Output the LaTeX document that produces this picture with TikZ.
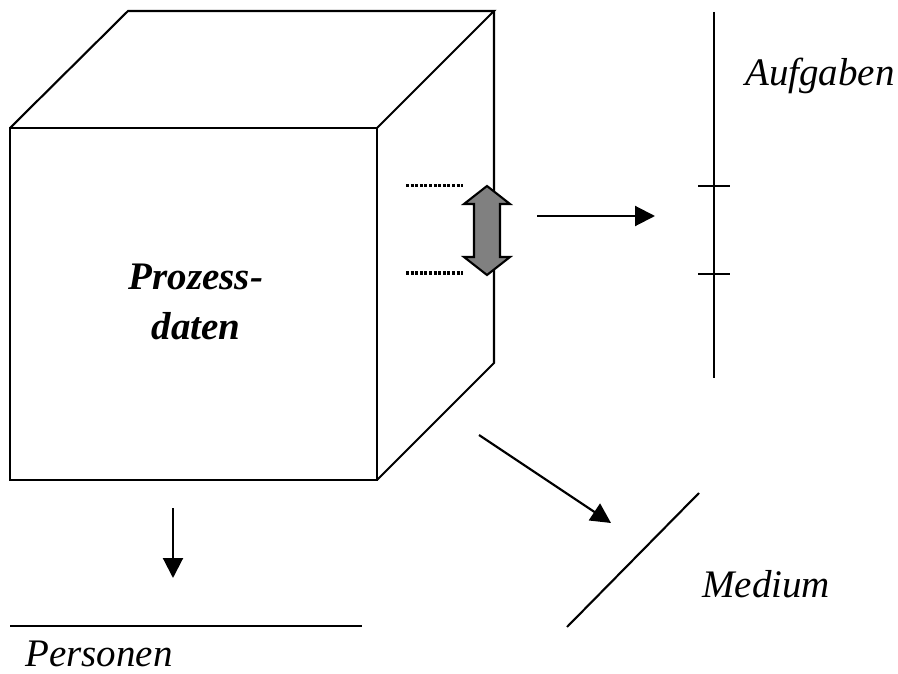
\documentclass[tikz,border=0pt]{standalone}
\usepackage{fontspec}
\setmainfont{Liberation Serif}
\usetikzlibrary{arrows.meta}
\tikzset{
    kante/.style={line width=2.1pt, black},
    pfeil/.style={kante, -{Triangle[length=20pt,width=20pt]}},
    punkte/.style={line width=3pt, dash pattern=on 3pt off 1.6pt},
    achsentext/.style={font=\fontsize{39}{50}\selectfont\itshape, inner sep=0pt},
}

\begin{document}
\begin{tikzpicture}[x=1pt,y=-1pt]
    \useasboundingbox (0,0) rectangle (898,674);
    % Wuerfel
    \coordinate (f1) at (10,128);
    \coordinate (f2) at (377,128);
    \coordinate (f3) at (377,480);
    \coordinate (f4) at (10,480);
    \coordinate (b1) at (128,11);
    \coordinate (b2) at (494,11);
    \coordinate (b3) at (494,363);
    \draw[kante] (f1) -- (f2) -- (f3) -- (f4) -- cycle;
    \draw[kante] (f1) -- (b1) -- (b2) -- (f2);
    \draw[kante] (b2) -- (b3) -- (f3);
    \node[achsentext, font=\fontsize{39}{50}\selectfont\bfseries\itshape, align=center] (pd) at (196,302) {Prozess-\\daten};
    % Doppelpfeil
    \draw[punkte] (406,186) -- (463,186);
    \draw[punkte] (406,273) -- (463,273);
    \draw[kante, fill=gray, line join=miter] (487,186) -- (510,204) -- (500,204) -- (500,257) -- (510,257)
        -- (487,275) -- (464,257) -- (474,257) -- (474,204) -- (464,204) -- cycle;
    % Achse Aufgaben
    \coordinate (a1) at (714,12);
    \coordinate (a2) at (714,378);
    \draw[kante] (a1) -- (a2);
    \foreach \y in {186,274}
        \draw[kante] (698,\y) -- (730,\y);
    \node[achsentext, anchor=base west] (auf) at (745,86) {Aufgaben};
    \coordinate (r1) at (537,216);
    \coordinate (r2) at (655,216);
    \draw[pfeil] (r1) -- (r2);
    % Achse Medium
    \coordinate (m1) at (567,627);
    \coordinate (m2) at (699,493);
    \draw[kante] (m1) -- (m2);
    \node[achsentext, anchor=base west] (med) at (702,597) {Medium};
    \coordinate (d1) at (479,435);
    \coordinate (d2) at (611,523);
    \draw[pfeil] (d1) -- (d2);
    % Achse Personen
    \coordinate (p1) at (10,626);
    \coordinate (p2) at (362,626);
    \draw[kante] (p1) -- (p2);
    \node[achsentext, anchor=base west] (pers) at (25,666) {Personen};
    \coordinate (u1) at (173,508);
    \coordinate (u2) at (173,578);
    \draw[pfeil] (u1) -- (u2);
\end{tikzpicture}
\end{document}
